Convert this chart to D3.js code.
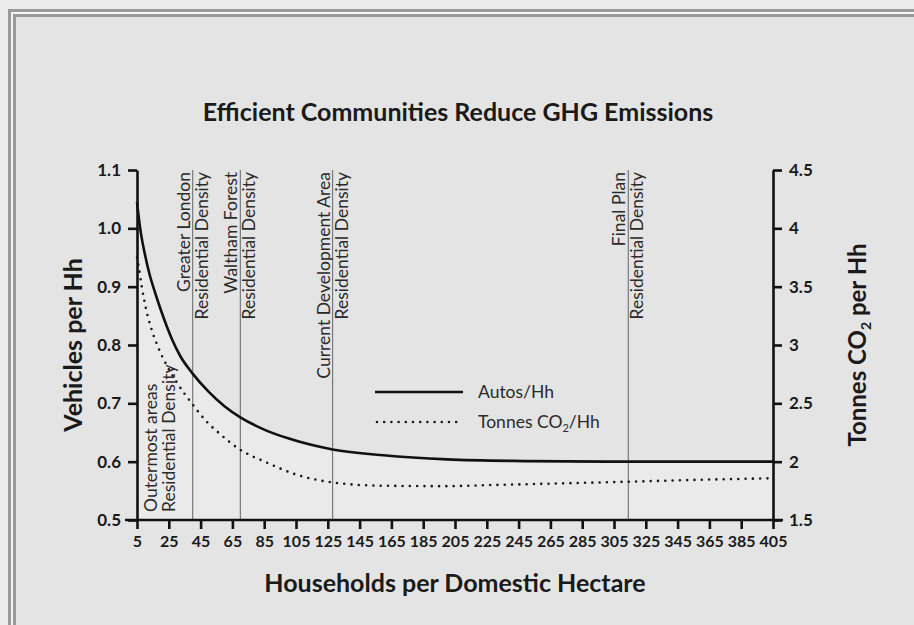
<!DOCTYPE html>
<html>
<head>
<meta charset="utf-8">
<script src="https://cdn.jsdelivr.net/npm/d3@7"></script>
<style>
  body { margin: 0; background: #ececec; }
  svg { display: block; }
  .tick text { font-family: Lato, "Open Sans", sans-serif; font-weight: bold; fill: #1a1a1a; }
</style>
</head>
<body>
<div id="chart"></div>
<script>
// chart values
var density = [5, 7, 10, 13, 16, 20, 24, 27, 32, 40, 50, 60, 70, 85, 100, 128, 160, 200, 250, 300, 350, 405];
var autosPerHh = [1.045, 1.0, 0.955, 0.92, 0.893, 0.86, 0.83, 0.81, 0.782, 0.751, 0.72, 0.695, 0.676, 0.655, 0.64, 0.621, 0.611, 0.604, 0.601, 0.6, 0.6, 0.6];

var co2Density = [5, 6, 8, 10.5, 14, 18, 22, 30, 40, 49, 57, 69, 87, 105, 124, 158, 200, 220, 260, 314, 360, 402];
var co2PerHh = [3.75, 3.68, 3.5, 3.32, 3.14, 2.99, 2.87, 2.68, 2.49, 2.34, 2.24, 2.11, 1.99, 1.89, 1.83, 1.794, 1.79, 1.797, 1.81, 1.828, 1.845, 1.857];

var xTicks = d3.range(5, 406, 20);
var leftTicks = [0.5, 0.6, 0.7, 0.8, 0.9, 1.0, 1.1];
var rightTicks = [1.5, 2, 2.5, 3, 3.5, 4, 4.5];

// density markers with a vertical line
var markerTop = ["Greater London", "Waltham Forest", "Current Development Area", "Final Plan"];
var markerValue = [40, 70, 128, 314];
// outermost areas label has no line
var outermostLabel = ["Outermost areas", "Residential Density"];
var outermostValue = 20;

var svgWidth = 914;
var svgHeight = 625;

var chartMargin = { top: 170, right: 141, bottom: 105, left: 137 };
var chartWidth = svgWidth - chartMargin.left - chartMargin.right;
var chartHeight = svgHeight - chartMargin.top - chartMargin.bottom;

var font = "Lato, 'Open Sans', sans-serif";
var labelSize = "17.5px";

var svg = d3.select("#chart")
  .append("svg")
  .attr("width", svgWidth)
  .attr("height", svgHeight);

// frame (cropped on the right and bottom)
svg.append("rect")
  .attr("x", 9.5).attr("y", 10.5)
  .attr("width", 940).attr("height", 640)
  .attr("fill", "#f4f4f4")
  .attr("stroke", "#9a9a9a")
  .attr("stroke-width", 3);
svg.append("rect")
  .attr("x", 14.5).attr("y", 15.5)
  .attr("width", 940).attr("height", 640)
  .attr("fill", "#e4e4e4")
  .attr("stroke", "#9a9a9a")
  .attr("stroke-width", 3);

var chartGroup = svg.append("g")
  .attr("transform", `translate(${chartMargin.left}, ${chartMargin.top})`);

var xScale = d3.scaleLinear().domain([5, 405]).range([0, chartWidth]);
var yLeft = d3.scaleLinear().domain([0.5, 1.1]).range([chartHeight, 0]);
var yRight = d3.scaleLinear().domain([1.5, 4.5]).range([chartHeight, 0]);

var autosData = density.map((d, i) => ({ x: d, y: autosPerHh[i] }));
var co2Data = co2Density.map((d, i) => ({ x: d, y: co2PerHh[i] }));

// light area under the autos curve
var area = d3.area()
  .x(d => xScale(d.x))
  .y0(chartHeight)
  .y1(d => yLeft(d.y))
  .curve(d3.curveMonotoneX);
chartGroup.append("path")
  .datum(autosData)
  .attr("d", area)
  .attr("fill", "#eaeaea");

// vertical density markers
markerValue.forEach(function(v, i) {
  var x = xScale(v);
  chartGroup.append("line")
    .attr("x1", x).attr("x2", x)
    .attr("y1", 0).attr("y2", chartHeight)
    .attr("stroke", "#7a7a7a")
    .attr("stroke-width", 1.2);
  chartGroup.append("text")
    .attr("transform", `translate(${x - 3}, 2) rotate(-90)`)
    .style("text-anchor", "end")
    .style("font-family", font)
    .style("font-size", labelSize)
    .attr("fill", "#2a2a2a")
    .text(markerTop[i]);
  chartGroup.append("text")
    .attr("transform", `translate(${x + 15}, 2) rotate(-90)`)
    .style("text-anchor", "end")
    .style("font-family", font)
    .style("font-size", labelSize)
    .attr("fill", "#2a2a2a")
    .text("Residential Density");
});

var ox = xScale(outermostValue);
chartGroup.append("text")
  .attr("transform", `translate(${ox - 4}, ${chartHeight - 8}) rotate(-90)`)
  .style("font-family", font)
  .style("font-size", labelSize)
  .attr("fill", "#2a2a2a")
  .text(outermostLabel[0]);
chartGroup.append("text")
  .attr("transform", `translate(${ox + 14}, ${chartHeight - 8}) rotate(-90)`)
  .style("font-family", font)
  .style("font-size", labelSize)
  .attr("fill", "#2a2a2a")
  .text(outermostLabel[1]);

// lines
var autosLine = d3.line()
  .x(d => xScale(d.x))
  .y(d => yLeft(d.y))
  .curve(d3.curveMonotoneX);
var co2Line = d3.line()
  .x(d => xScale(d.x))
  .y(d => yRight(d.y))
  .curve(d3.curveMonotoneX);

chartGroup.append("path")
  .datum(co2Data)
  .attr("d", co2Line)
  .attr("fill", "none")
  .attr("stroke", "#1a1a1a")
  .attr("stroke-width", 2.6)
  .attr("stroke-linecap", "round")
  .attr("stroke-dasharray", "0 7.3");

chartGroup.append("path")
  .datum(autosData)
  .attr("d", autosLine)
  .attr("fill", "none")
  .attr("stroke", "#111")
  .attr("stroke-width", 2.6);

// axes
var bottomAxis = d3.axisBottom(xScale).tickValues(xTicks).tickSize(9).tickSizeOuter(0).tickPadding(7);
var leftAxis = d3.axisLeft(yLeft).tickValues(leftTicks).tickFormat(d3.format(".1f")).tickSize(9).tickSizeOuter(0).tickPadding(7);
var rightAxis = d3.axisRight(yRight).tickValues(rightTicks).tickFormat(d => d).tickSize(9).tickSizeOuter(0).tickPadding(7);

var gx = chartGroup.append("g")
  .attr("transform", `translate(0, ${chartHeight})`)
  .call(bottomAxis);
gx.selectAll("text").style("font-size", "16px");

var gl = chartGroup.append("g").call(leftAxis);
gl.selectAll("text").style("font-size", "17px");

var gr = chartGroup.append("g")
  .attr("transform", `translate(${chartWidth}, 0)`)
  .call(rightAxis);
gr.selectAll("text").style("font-size", "17px");

chartGroup.selectAll(".domain, .tick line")
  .attr("stroke", "#111")
  .attr("stroke-width", 2.6);
gx.select(".domain").attr("d", `M-12,0H${chartWidth + 10}`);

// legend
var legendX = 238, legendY = 222;
chartGroup.append("line")
  .attr("x1", legendX).attr("x2", legendX + 88)
  .attr("y1", legendY).attr("y2", legendY)
  .attr("stroke", "#111").attr("stroke-width", 2.6);
chartGroup.append("text")
  .attr("x", legendX + 103).attr("y", legendY + 6)
  .style("font-family", font).style("font-size", labelSize)
  .attr("fill", "#2a2a2a")
  .text("Autos/Hh");
chartGroup.append("line")
  .attr("x1", legendX + 2).attr("x2", legendX + 88)
  .attr("y1", legendY + 30).attr("y2", legendY + 30)
  .attr("stroke", "#1a1a1a").attr("stroke-width", 2.6)
  .attr("stroke-linecap", "round")
  .attr("stroke-dasharray", "0 7.2");
var co2Text = chartGroup.append("text")
  .attr("x", legendX + 103).attr("y", legendY + 36)
  .style("font-family", font).style("font-size", labelSize)
  .attr("fill", "#2a2a2a");
co2Text.append("tspan").text("Tonnes CO");
co2Text.append("tspan").attr("dy", 4).style("font-size", "11px").text("2");
co2Text.append("tspan").attr("dy", -4).text("/Hh");

// title
svg.append("text")
  .attr("x", 458)
  .attr("y", 121)
  .style("text-anchor", "middle")
  .style("font-family", font)
  .style("font-weight", "bold")
  .style("font-size", "25px")
  .attr("fill", "#1a1a1a")
  .text("Efficient Communities Reduce GHG Emissions");

// x-axis label
svg.append("text")
  .attr("x", 455)
  .attr("y", 592)
  .style("text-anchor", "middle")
  .style("font-family", font)
  .style("font-weight", "bold")
  .style("font-size", "25px")
  .attr("fill", "#1a1a1a")
  .text("Households per Domestic Hectare");

// left y-axis label
svg.append("text")
  .attr("transform", "translate(82, 345) rotate(-90)")
  .style("text-anchor", "middle")
  .style("font-family", font)
  .style("font-weight", "bold")
  .style("font-size", "25px")
  .attr("fill", "#1a1a1a")
  .text("Vehicles per Hh");

// right y-axis label
var rLabel = svg.append("text")
  .attr("transform", "translate(866, 345) rotate(-90)")
  .style("text-anchor", "middle")
  .style("font-family", font)
  .style("font-weight", "bold")
  .style("font-size", "24px")
  .attr("fill", "#1a1a1a");
rLabel.append("tspan").text("Tonnes CO");
rLabel.append("tspan").attr("dy", 5).style("font-size", "14px").text("2");
rLabel.append("tspan").attr("dy", -5).text(" per Hh");
</script>
</body>
</html>
